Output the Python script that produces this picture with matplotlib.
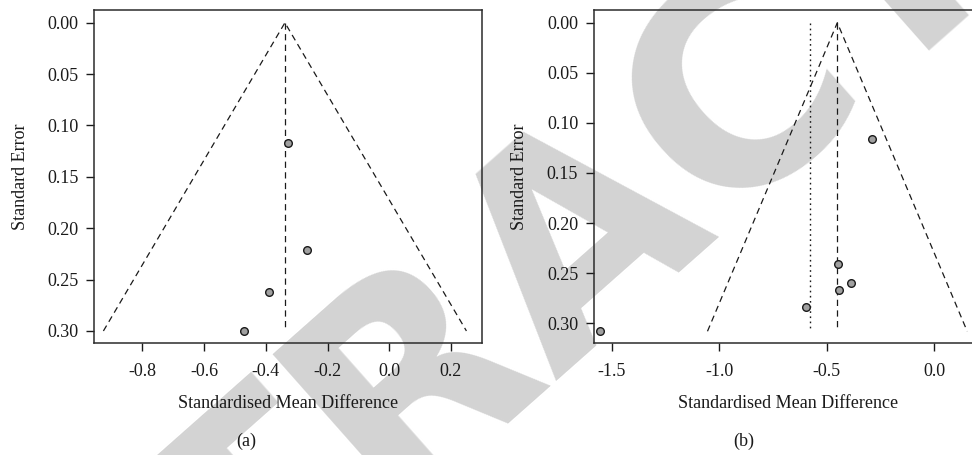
import matplotlib

matplotlib.use("Agg")
import matplotlib.pyplot as plt

plt.rcParams["font.family"] = ["Liberation Serif", "DejaVu Serif"]

# panel (a): fixed-effect estimate, study effects and standard errors
est_a = -0.338
se_max_a = 0.300
smd_a = [-0.329, -0.265, -0.391, -0.471]
se_a = [0.117, 0.221, 0.262, 0.300]

# panel (b): random-effects estimate, fixed-effect (dotted) and studies
est_b = -0.451
dotted_b = -0.577
se_max_b = 0.308
smd_b = [-0.290, -0.448, -0.386, -0.443, -0.597, -1.553]
se_b = [0.116, 0.241, 0.260, 0.267, 0.284, 0.308]

y_ticks = [0.00, 0.05, 0.10, 0.15, 0.20, 0.25, 0.30]
x_ticks_a = [-0.8, -0.6, -0.4, -0.2, 0.0, 0.2]
x_ticks_b = [-1.5, -1.0, -0.5, 0.0]

FG = "#1a1a1a"
W, H = 972, 455


def funnel(ax, est, se_max, smd, se, xlim, ylim, xticks, dotted=None):
    ax.set_facecolor("none")
    kw = dict(color=FG, linewidth=0.9, dashes=(5, 3.5))
    ax.plot([est - 1.96 * se_max, est, est + 1.96 * se_max],
            [se_max, 0, se_max], **kw)
    ax.plot([est, est], [0, se_max], **kw)
    if dotted is not None:
        ax.plot([dotted, dotted], [0, se_max], color=FG, linewidth=1.0,
                dashes=(1.2, 2.5))
    ax.plot(smd, se, "o", markersize=5.5, markerfacecolor="#a0a0a0",
            markeredgecolor=FG, markeredgewidth=1.0, zorder=3)
    ax.set_xlim(*xlim)
    ax.set_ylim(*ylim)
    ax.set_xticks(xticks, [f"{t:.1f}" for t in xticks])
    ax.set_yticks(y_ticks, [f"{t:.2f}" for t in y_ticks])
    for s in ax.spines.values():
        s.set_color("#2b2b2b")
        s.set_linewidth(1.1)
    ax.tick_params(colors=FG, labelsize=13, length=6, width=1.0)
    ax.tick_params(axis="x", pad=8)
    ax.tick_params(axis="y", pad=5)
    ax.set_xlabel("Standardised Mean Difference", fontsize=13, color=FG,
                  va="center")
    ax.set_ylabel("Standard Error", fontsize=13, color=FG, va="center")
    ax.xaxis.set_label_coords(0.5, -0.18)
    ax.yaxis.set_label_coords(-0.19, 0.5)


fig = plt.figure(figsize=(W / 100, H / 100), dpi=100)

ax_w, ax_h = 388.3 / W, 333.3 / H
ax_a = fig.add_axes([94 / W, (H - 343.3) / H, ax_w, ax_h])
ax_b = fig.add_axes([593.5 / W, (H - 343.3) / H, ax_w, ax_h])

funnel(ax_a, est_a, se_max_a, smd_a, se_a, (-0.9565, 0.3014),
       (0.312, -0.0124), x_ticks_a)
funnel(ax_b, est_b, se_max_b, smd_b, se_b, (-1.5846, 0.2206),
       (0.320, -0.0127), x_ticks_b, dotted=dotted_b)

fig.text(246 / W, 1 - 441 / H, "(a)", fontsize=13, color=FG,
         ha="center", va="center")
fig.text(744 / W, 1 - 441 / H, "(b)", fontsize=13, color=FG,
         ha="center", va="center")

# retraction watermark, behind the plots (only part of it is on the page)
fig.text(583 / W, 1 - 229 / H, "RETRACTED", family="DejaVu Sans",
         weight="bold", fontsize=205, color="#d3d3d3", rotation=41.5,
         ha="center", va="center", rotation_mode="anchor", zorder=-1)

fig.savefig("out.png", dpi=100)
